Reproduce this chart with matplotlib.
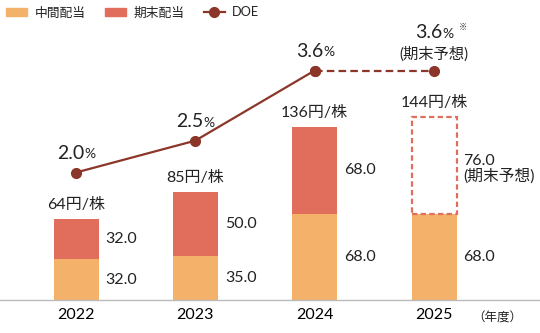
import matplotlib.pyplot as plt
from matplotlib.patches import Patch
from matplotlib.lines import Line2D

# dividend per share (yen) and DOE (%) by fiscal year
years = ['2022', '2023', '2024', '2025']
interim = [32.0, 35.0, 68.0, 68.0]
year_end = [32.0, 50.0, 68.0, 76.0]
totals = [64, 85, 136, 144]
doe = [2.0, 2.5, 3.6, 3.6]
is_forecast = [False, False, False, True]

ORANGE = '#F4B16A'
RED = '#E16E5D'
LINE = '#8B3628'
TEXT = '#222222'

plt.rcParams['font.family'] = ['Lato', 'Noto Sans CJK JP']
plt.rcParams['text.color'] = TEXT

fig = plt.figure(figsize=(5.4, 3.33), dpi=100)
ax = fig.add_axes([0, 33 / 333, 1, 300 / 333])
ax2 = ax.twinx()

xs = list(range(len(years)))
w = 0.377

# stacked bars, forecast year-end part drawn as a dashed outline
ax.bar(xs, interim, w, color=ORANGE, zorder=2)
for i in xs:
    if is_forecast[i]:
        ax.bar(i, year_end[i], w, bottom=interim[i], facecolor='white',
               edgecolor=RED, linestyle=(0, (2.4, 1.5)), linewidth=1.6, zorder=2)
    else:
        ax.bar(i, year_end[i], w, bottom=interim[i], color=RED, zorder=2)

# segment values to the right of the bars, totals above
for i in xs:
    ax.annotate(f'{interim[i]:.1f}', (i + w / 2, interim[i] / 2), xytext=(5, 0),
                textcoords='offset points', ha='left', va='center', fontsize=11.5)
    top_mid = interim[i] + year_end[i] / 2
    if is_forecast[i]:
        ax.annotate(f'{year_end[i]:.1f}', (i + w / 2, top_mid), xytext=(5, 3),
                    textcoords='offset points', ha='left', va='center', fontsize=11.5)
        ax.annotate('(期末予想)', (i + w / 2, top_mid), xytext=(5, -8),
                    textcoords='offset points', ha='left', va='center', fontsize=11.3)
    else:
        ax.annotate(f'{year_end[i]:.1f}', (i + w / 2, top_mid), xytext=(5, 0),
                    textcoords='offset points', ha='left', va='center', fontsize=11.5)
    ax.annotate(f'{totals[i]}円/株', (i, interim[i] + year_end[i]), xytext=(0, 10),
                textcoords='offset points', ha='center', va='center', fontsize=11.5)

ax.set_xlim(-0.637, 3.888)
ax.set_ylim(0, 236.2)
ax.set_xticks(xs, years, fontsize=11.5)
ax.tick_params(axis='x', length=0, pad=6)
ax.set_yticks([])
for s in ['top', 'left', 'right']:
    ax.spines[s].set_visible(False)
ax.spines['bottom'].set_color('#BBBBBB')
ax.spines['bottom'].set_linewidth(1)
ax.text(3.53, -0.06, '（年度）', transform=ax.get_xaxis_transform(),
        ha='center', va='center', fontsize=9)

# DOE line (solid for actuals, dashed to the forecast)
ax2.plot(xs[:3], doe[:3], color=LINE, lw=1.6, marker='o', ms=7, zorder=3)
ax2.plot(xs[2:], doe[2:], color=LINE, lw=1.6, ls=(0, (3.4, 1.9)), marker='o', ms=7, zorder=3)
ax2.set_ylim(0, 300 / 63.75)
ax2.set_yticks([])
for s in ax2.spines.values():
    s.set_visible(False)

for i in xs:
    if is_forecast[i]:
        ax2.annotate('3.6', (i, doe[i]), xytext=(6, 27), textcoords='offset points',
                     ha='right', va='center', fontsize=14)
        ax2.annotate('%', (i, doe[i]), xytext=(6, 26), textcoords='offset points',
                     ha='left', va='center', fontsize=10)
        ax2.annotate('※', (i, doe[i]), xytext=(18, 31), textcoords='offset points',
                     ha='left', va='center', fontsize=6)
        ax2.annotate('(期末予想)', (i, doe[i]), xytext=(0, 12), textcoords='offset points',
                     ha='center', va='center', fontsize=11)
    else:
        ax2.annotate(f'{doe[i]:.1f}', (i, doe[i]), xytext=(6, 14), textcoords='offset points',
                     ha='right', va='center', fontsize=14)
        ax2.annotate('%', (i, doe[i]), xytext=(6, 13), textcoords='offset points',
                     ha='left', va='center', fontsize=10)

handles = [Patch(color=ORANGE), Patch(color=RED),
           Line2D([], [], color=LINE, lw=1.6, marker='o', ms=7)]
fig.legend(handles, ['中間配当', '期末配当', 'DOE'], loc='upper left',
           bbox_to_anchor=(0, 1.0), ncol=3, frameon=False, fontsize=9.2,
           handlelength=1.6, handleheight=0.7, handletextpad=0.6,
           columnspacing=1.55, borderaxespad=0.25, borderpad=0.25)

fig.savefig('out.png', dpi=100)
